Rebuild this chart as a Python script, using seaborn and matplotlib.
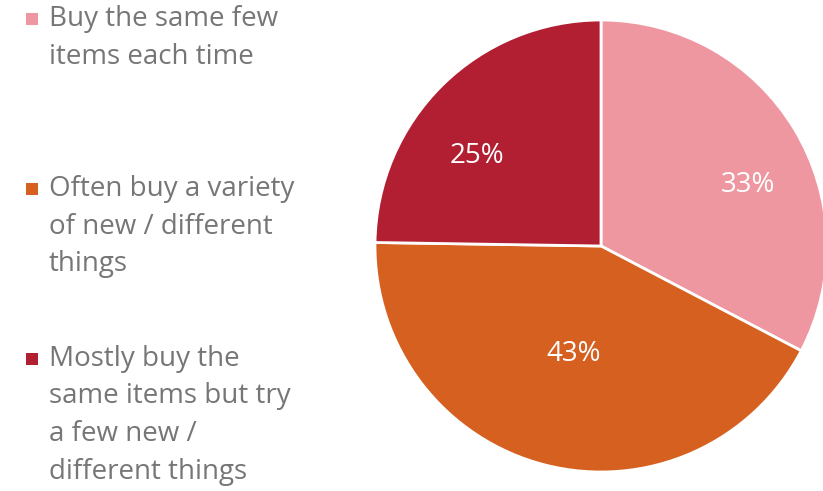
import matplotlib
matplotlib.use("Agg")
import matplotlib.pyplot as plt
import seaborn as sns
from matplotlib.patches import Rectangle

# Survey shares (percent), clockwise from 12 o'clock
categories = [
    "Buy the same few\nitems each time",
    "Often buy a variety\nof new / different\nthings",
    "Mostly buy the\nsame items but try\na few new /\ndifferent things",
]
shares = [33, 43, 25]
pct_labels = ["33%", "43%", "25%"]

sns.set_theme(style="white")
plt.rcParams["font.family"] = ["Open Sans", "DejaVu Sans"]

colors = sns.color_palette(["#EE97A1", "#D6601F", "#B21E32"])

W, H = 823, 491
fig = plt.figure(figsize=(W / 100, H / 100), dpi=100)
fig.patch.set_facecolor("white")

# pie axes: centre (601, 246) px, radius 226 px
cx, cy, r = 601, 246, 226
ax = fig.add_axes([(cx - r) / W, (H - cy - r) / H, 2 * r / W, 2 * r / H])
wedges, _ = ax.pie(
    shares,
    colors=colors,
    startangle=90,
    counterclock=False,
    radius=1.0,
    wedgeprops=dict(edgecolor="white", linewidth=2.0),
)
ax.set_xlim(-1, 1)
ax.set_ylim(-1, 1)
ax.set_aspect("equal")
ax.axis("off")

# percentage labels, placed in data units relative to pie centre
label_pos = [(0.65, 0.27), (-0.12, -0.48), (-0.55, 0.40)]
for (x, y), txt in zip(label_pos, pct_labels):
    ax.text(x, y, txt, ha="center", va="center", color="white", fontsize=20)

# legend column on the left
legend_top = [19, 189, 359]
line_h = 37.5
for top, lab, col in zip(legend_top, categories, colors):
    fig.patches.append(
        Rectangle(((26) / W, (H - top - 6) / H), 12 / W, 12 / H,
                  transform=fig.transFigure, facecolor=col, edgecolor="none")
    )
    for i, line in enumerate(lab.split("\n")):
        fig.text(49 / W, (H - top - i * line_h) / H, line,
                 ha="left", va="center", color="#767676", fontsize=20)

fig.savefig("out.png", dpi=100, facecolor="white")
